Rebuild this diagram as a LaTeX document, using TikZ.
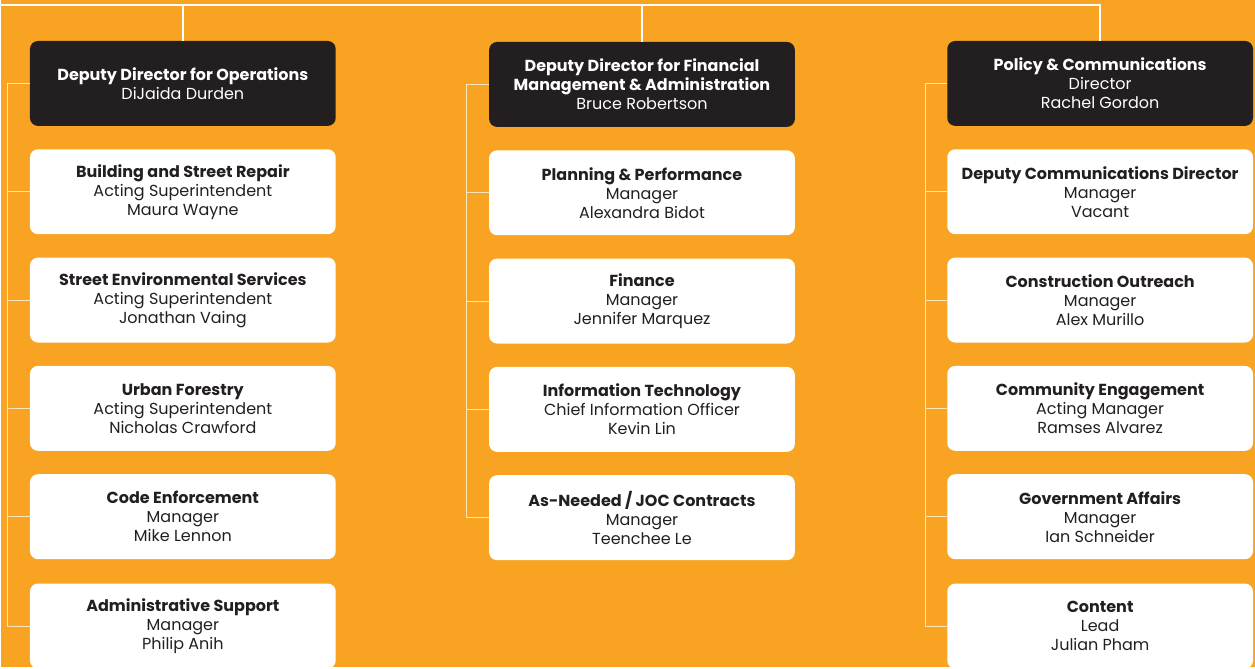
\documentclass[tikz,border=0pt]{standalone}
\usepackage{fontspec}
\setmainfont{Poppins}
\usetikzlibrary{positioning}

\definecolor{chartorange}{HTML}{F8A322}
\definecolor{chartink}{HTML}{231F20}
\definecolor{railcream}{HTML}{FDE6B8}

\tikzset{
  unit/.style={rounded corners=8pt, minimum width=306pt, minimum height=85pt,
    inner sep=0pt, align=center, font=\fontsize{16}{19}\selectfont},
  head/.style={unit, fill=chartink, text=white},
  office/.style={unit, fill=white, text=chartink},
  trunk/.style={draw=white, line width=2pt},
  rail/.style={draw=railcream, line width=1pt},
}

\begin{document}
\begin{tikzpicture}[x=1pt, y=-1pt]
  \fill[chartorange] (0,0) rectangle (1255,668);

  % heads
  \node[head] (opsHead) at (182,83.5) {\textbf{Deputy Director for Operations}\\DiJaida Durden};
  \node[head] (finHead) at (641.5,84.5) {\textbf{Deputy Director for Financial}\\\textbf{Management \& Administration}\\Bruce Robertson};
  \node[head] (polHead) at (1100,83.5) {\textbf{Policy \& Communications}\\Director\\Rachel Gordon};

  % operations
  \node[office, below=23pt of opsHead] (opsA) {\textbf{Building and Street Repair}\\Acting Superintendent\\Maura Wayne};
  \node[office, below=23pt of opsA] (opsB) {\textbf{Street Environmental Services}\\Acting Superintendent\\Jonathan Vaing};
  \node[office, below=23pt of opsB] (opsC) {\textbf{Urban Forestry}\\Acting Superintendent\\Nicholas Crawford};
  \node[office, below=23pt of opsC] (opsD) {\textbf{Code Enforcement}\\Manager\\Mike Lennon};
  \node[office, below=24pt of opsD] (opsE) {\textbf{Administrative Support}\\Manager\\Philip Anih};

  % financial management
  \node[office, below=23pt of finHead] (finA) {\textbf{Planning \& Performance}\\Manager\\Alexandra Bidot};
  \node[office, below=23pt of finA] (finB) {\textbf{Finance}\\Manager\\Jennifer Marquez};
  \node[office, below=23pt of finB] (finC) {\textbf{Information Technology}\\Chief Information Officer\\Kevin Lin};
  \node[office, below=23pt of finC] (finD) {\textbf{As-Needed / JOC Contracts}\\Manager\\Teenchee Le};

  % policy & communications
  \node[office, below=23pt of polHead] (polA) {\textbf{Deputy Communications Director}\\Manager\\Vacant};
  \node[office, below=23pt of polA] (polB) {\textbf{Construction Outreach}\\Manager\\Alex Murillo};
  \node[office, below=23pt of polB] (polC) {\textbf{Community Engagement}\\Acting Manager\\Ramses Alvarez};
  \node[office, below=23pt of polC] (polD) {\textbf{Government Affairs}\\Manager\\Ian Schneider};
  \node[office, below=24pt of polD] (polE) {\textbf{Content}\\Lead\\Julian Pham};

  % top bar down to each head
  \coordinate (bar) at (0,5);
  \draw[trunk] (bar) -- (bar -| polHead.north) -- (polHead.north);
  \draw[trunk] (opsHead.north) -- (opsHead.north |- bar);
  \draw[trunk] (finHead.north) -- (finHead.north |- bar);

  % rails on the left of each column
  \coordinate (opsRail) at (7,0);
  \coordinate (finRail) at (466,0);
  \coordinate (polRail) at (925,0);

  \draw[rail] (opsHead.west) -- (opsHead.west -| opsRail) |- (opsE.west);
  \draw[rail] (opsA.west) -- (opsA.west -| opsRail);
  \draw[rail] (opsB.west) -- (opsB.west -| opsRail);
  \draw[rail] (opsC.west) -- (opsC.west -| opsRail);
  \draw[rail] (opsD.west) -- (opsD.west -| opsRail);

  \draw[rail] (finHead.west) -- (finHead.west -| finRail) |- (finD.west);
  \draw[rail] (finA.west) -- (finA.west -| finRail);
  \draw[rail] (finB.west) -- (finB.west -| finRail);
  \draw[rail] (finC.west) -- (finC.west -| finRail);

  \draw[rail] (polHead.west) -- (polHead.west -| polRail) |- (polE.west);
  \draw[rail] (polA.west) -- (polA.west -| polRail);
  \draw[rail] (polB.west) -- (polB.west -| polRail);
  \draw[rail] (polC.west) -- (polC.west -| polRail);
  \draw[rail] (polD.west) -- (polD.west -| polRail);

  \useasboundingbox (0,0) rectangle (1255,668);
\end{tikzpicture}
\end{document}
